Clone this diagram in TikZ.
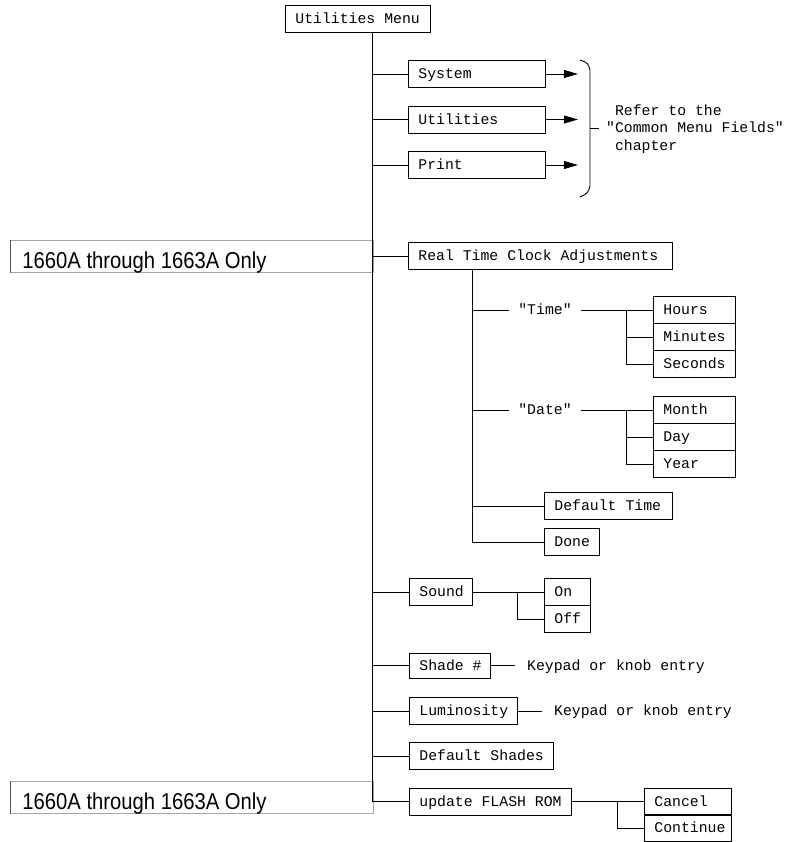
\documentclass[tikz,border=0pt]{standalone}
\usepackage{fontspec}
\newfontfamily\mfont{Liberation Mono}
\newfontfamily\lfont[FakeStretch=0.88]{Liberation Sans}
\usetikzlibrary{arrows.meta}
\tikzset{
  mbox/.style={draw, line width=0.9pt, minimum height=27pt, inner xsep=0pt, inner ysep=0pt,
    anchor=west, text height=12.8pt, text depth=3pt,
    execute at begin node={\hbox to #1\bgroup\spaceskip=0pt\relax\hskip10pt\relax},
    execute at end node={\hfil\egroup},
    font=\mfont\fontsize{14.8}{17.5}\selectfont},
  mtext/.style={inner xsep=9pt, inner ysep=0pt, text height=12.8pt, text depth=3pt,
    font=\mfont\fontsize{14.8}{17.5}\selectfont},
  conn/.style={line width=0.9pt},
  reflink/.style={line width=0.9pt, -{Triangle[length=14pt,width=8pt]}},
  labbox/.style={draw=black!35, line width=0.8pt, minimum height=32pt,
    anchor=west, inner xsep=0pt, inner ysep=0pt,
    text height=26pt, text depth=2.4pt,
    execute at begin node={\hbox to 363pt\bgroup\hskip12pt\relax},
    execute at end node={\hfil\egroup},
    font=\lfont\fontsize{23}{27}\selectfont}
}
\begin{document}
\begin{tikzpicture}[x=1pt,y=-1pt]
\useasboundingbox (0,0) rectangle (789,842);
% side labels
\node[labbox] (lab1) at (10,256.5) {1660A through 1663A Only};
\node[labbox] (lab2) at (10,797.5) {1660A through 1663A Only};
\draw[black!65, line width=0.8pt] (lab1.north west) -- (lab1.south west);
\draw[black!65, line width=0.8pt] (lab2.north west) -- (lab2.south west);
% main boxes
\node[mbox=145pt] (um) at (285,19) {Utilities Menu};
\node[mbox=137pt] (sys) at (408,74) {System};
\node[mbox=137pt] (uti) at (408,119.5) {Utilities};
\node[mbox=137pt] (prt) at (408,165) {Print};
\node[mbox=264pt] (rtc) at (408,256) {Real Time Clock Adjustments};
\node[mtext] (time) at (545,310) {"Time"};
\node[mtext] (date) at (545,410) {"Date"};
\node[mbox=82pt] (hrs) at (653,310) {Hours};
\node[mbox=82pt] (min) at (653,337) {Minutes};
\node[mbox=82pt] (sec) at (653,364) {Seconds};
\node[mbox=82pt] (mon) at (653,410) {Month};
\node[mbox=82pt] (day) at (653,437) {Day};
\node[mbox=82pt] (yr) at (653,464) {Year};
\node[mbox=128pt] (dt) at (544,506) {Default Time};
\node[mbox=55pt] (done) at (544,542) {Done};
\node[mbox=63pt] (snd) at (409,592) {Sound};
\node[mbox=46pt] (on) at (544,592) {On};
\node[mbox=46pt] (off) at (544,619) {Off};
\node[mbox=81pt, minimum height=25pt] (shd) at (409,665.5) {Shade \#};
\node[mtext, anchor=west, inner xsep=12pt] (kp1) at (515,665.5) {Keypad or knob entry};
\node[mbox=108pt] (lum) at (409,711) {Luminosity};
\node[mtext, anchor=west, inner xsep=12pt] (kp2) at (542,711) {Keypad or knob entry};
\node[mbox=144pt] (dsh) at (409,756) {Default Shades};
\node[mbox=162pt] (fla) at (409,801.5) {update FLASH ROM};
\node[mbox=87pt] (can) at (644,801.5) {Cancel};
\node[mbox=87pt] (con) at (644,828) {Continue};
% trunk
\coordinate (t0) at (372,33);
\draw[conn] (t0) -- (t0 |- fla.west);
\foreach \b in {sys,uti,prt,rtc,snd,shd,lum,dsh,fla}
  \draw[conn] (t0 |- \b.west) -- (\b.west);
% references
\draw[reflink] (sys.east) -- ++(32,0);
\draw[reflink] (uti.east) -- ++(32,0);
\draw[reflink] (prt.east) -- ++(32,0);
\draw[conn] (580,60) .. controls (588,63) .. (590,70) -- (590,186) .. controls (588,193) .. (580,197);
\draw[conn] (590,128) -- (599,128);
\node[anchor=west, inner sep=0pt, align=left, font=\mfont\fontsize{14.8}{17.5}\selectfont] (ref) at (606,129)
  {\spaceskip=0pt\relax\hphantom{"}Refer to the\\\spaceskip=0pt\relax"Common Menu Fields"\\\hphantom{"}chapter};
% real time clock subtree
\coordinate (st) at (472,269.5);
\draw[conn] (st) -- (st |- done.west);
\draw[conn] (st |- time.west) -- (time.west);
\draw[conn] (time.east) -- (hrs.west);
\draw[conn] (st |- date.west) -- (date.west);
\draw[conn] (date.east) -- (mon.west);
\draw[conn] (st |- dt.west) -- (dt.west);
\draw[conn] (st |- done.west) -- (done.west);
\coordinate (tb) at (626,310);
\draw[conn] (tb) -- (tb |- sec.west) -- (sec.west);
\draw[conn] (tb |- min.west) -- (min.west);
\coordinate (db) at (626,410);
\draw[conn] (db) -- (db |- yr.west) -- (yr.west);
\draw[conn] (db |- day.west) -- (day.west);
% sound
\draw[conn] (snd.east) -- (on.west);
\coordinate (sb) at (517,592);
\draw[conn] (sb) -- (sb |- off.west) -- (off.west);
% shade / luminosity
\draw[conn] (shd.east) -- (kp1.west);
\draw[conn] (lum.east) -- (kp2.west);
% flash
\draw[conn] (fla.east) -- (can.west);
\coordinate (fb) at (617,801.5);
\draw[conn] (fb) -- (fb |- con.west) -- (con.west);
\end{tikzpicture}
\end{document}
